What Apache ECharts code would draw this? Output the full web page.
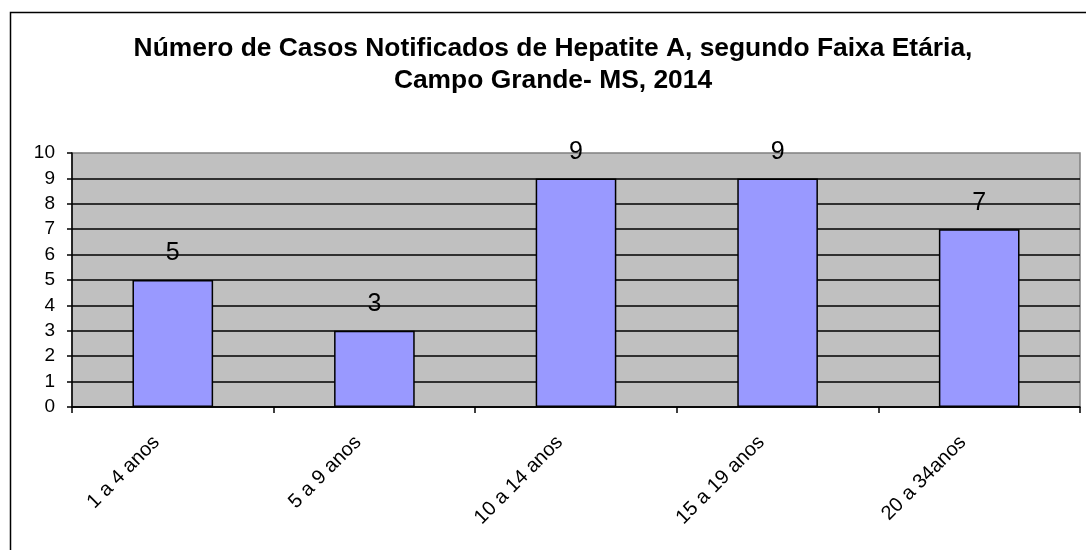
<!DOCTYPE html>
<html><head><meta charset="utf-8">
<script src="https://cdn.jsdelivr.net/npm/echarts@6/dist/echarts.min.js"></script>
<style>html,body{margin:0;padding:0;background:#fff}#c{width:1086px;height:550px}</style>
</head><body><div id="c"></div>
<script>
const categories = ['1 a 4 anos', '5 a 9 anos', '10 a 14 anos', '15 a 19 anos', '20 a 34anos'];
const casos = [5, 3, 9, 9, 7];
const yTicks = [0, 1, 2, 3, 4, 5, 6, 7, 8, 9, 10];
const titleText = 'Número de Casos Notificados de Hepatite A, segundo Faixa Etária,\nCampo Grande- MS, 2014';

const FONT = '"Liberation Sans", Arial, sans-serif';
const chart = echarts.init(document.getElementById('c'));
chart.setOption({
  animation: false,
  backgroundColor: '#fff',
  graphic: [{
    type: 'rect', left: 8, top: 10,
    shape: { width: 1100, height: 560 },
    style: { fill: 'none', stroke: '#000', lineWidth: 1.5 },
    silent: true
  }],
  title: {
    text: titleText,
    left: 548, top: 28, textAlign: 'center',
    textStyle: { fontFamily: FONT, fontSize: 26.4, fontWeight: 'bold', color: '#000', lineHeight: 31.5 }
  },
  grid: {
    left: 72, right: 6, top: 153, bottom: 143,
    show: true, backgroundColor: '#C0C0C0', borderColor: '#808080', borderWidth: 1.5
  },
  xAxis: {
    type: 'category', data: categories,
    axisLine: { lineStyle: { color: '#000', width: 1.5 } },
    axisTick: { show: true, inside: false, length: 6, alignWithLabel: false, interval: 0, lineStyle: { color: '#000', width: 1.5 } },
    axisLabel: { rotate: 45, margin: 16, interval: 0, padding: [0, 23, 0, 0], fontFamily: FONT, fontSize: 20, color: '#000' }
  },
  yAxis: {
    type: 'value', min: yTicks[0], max: yTicks[yTicks.length - 1], interval: 1,
    axisLine: { show: true, lineStyle: { color: '#000', width: 1.5 } },
    axisTick: { show: true, length: 5, lineStyle: { color: '#000', width: 1.5 } },
    axisLabel: { margin: 17, fontFamily: FONT, fontSize: 19, color: '#000' },
    splitLine: { show: true, showMaxLine: false, lineStyle: { color: '#000', width: 1.5 } }
  },
  series: [{
    type: 'bar', data: casos, barWidth: '40%',
    itemStyle: { color: '#9999FF', borderColor: '#000', borderWidth: 1.5 },
    label: { show: true, position: 'top', distance: 14, fontFamily: FONT, fontSize: 25, color: '#000' }
  }]
});
</script></body></html>
